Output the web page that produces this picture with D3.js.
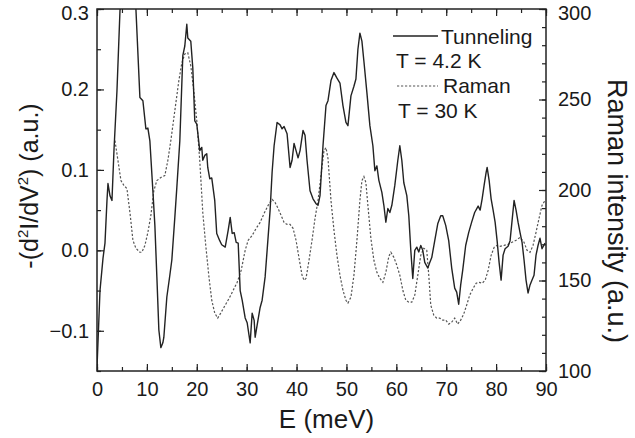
<!DOCTYPE html>
<html><head><meta charset="utf-8">
<script src="https://cdn.jsdelivr.net/npm/d3@7"></script>
<style>body{margin:0;background:#fff}svg{display:block}text{font-family:"Liberation Sans",Arial,sans-serif;fill:#1a1a1a}</style>
</head><body>
<svg id="c" width="635" height="438"></svg>
<script>
// Tunneling -(d2I/dV2), T = 4.2 K : energy (meV)
const tunE = [0,0.6,1.2,1.6,2.0,2.2,2.6,3.0,3.4,4.0,4.6,5.4,6.6,7.8,8.6,9.2,9.8,10.2,10.6,11.2,11.6,12.0,12.4,12.8,13.2,13.4,14.0,14.6,15.0,15.6,16.0,16.6,17.2,17.6,18.0,18.2,18.8,19.2,19.6,20.0,20.6,21.0,21.2,21.6,22.0,22.2,22.6,23.0,23.6,24.0,24.6,25.0,25.7,26.3,26.7,27.1,27.5,27.9,28.3,28.7,29.1,29.7,30.1,30.7,31.1,31.5,31.7,32.1,32.7,33.1,33.7,34.1,34.7,35.1,35.5,36.1,36.7,37.1,37.5,38.1,38.7,39.1,39.5,39.9,40.3,40.7,41.3,41.7,42.1,42.7,43.3,43.9,44.3,44.7,45.3,45.9,46.3,46.9,47.5,48.1,48.7,49.3,49.9,50.3,50.9,51.5,51.9,52.3,52.7,53.1,53.5,54.1,54.7,55.3,55.7,56.1,56.5,57.1,57.5,57.9,58.3,58.7,59.1,59.7,60.3,60.7,61.1,61.5,62.1,62.5,62.9,63.3,63.7,64.1,64.5,64.9,65.3,65.7,66.3,66.7,67.1,67.7,68.3,68.9,69.3,69.9,70.5,71.1,71.7,72.1,72.5,72.9,73.3,73.9,74.5,75.1,75.7,76.4,76.8,77.2,77.6,78.0,78.2,78.6,79.0,79.4,79.8,80.2,80.6,81.0,81.4,81.8,82.4,82.8,83.2,83.6,84.0,84.4,84.8,85.2,85.6,86.0,86.4,86.8,87.2,87.6,88.0,88.4,88.8,89.2,89.8];
const tunV = [-0.146,-0.050,-0.010,0.009,0.062,0.083,0.068,0.062,0.124,0.198,0.297,0.36,0.36,0.30,0.190,0.186,0.151,0.152,0.136,0.074,0.031,-0.033,-0.099,-0.121,-0.115,-0.108,-0.058,-0.031,-0.012,0.041,0.078,0.136,0.242,0.254,0.281,0.264,0.260,0.227,0.161,0.157,0.124,0.128,0.112,0.118,0.120,0.103,0.089,0.090,0.062,0.021,0.012,0.007,0.004,0.025,0.041,0.021,0.022,0.010,0.009,-0.050,-0.062,-0.084,-0.090,-0.115,-0.078,-0.087,-0.108,-0.093,-0.071,-0.062,-0.033,0.0,0.050,0.097,0.130,0.159,0.156,0.151,0.154,0.145,0.103,0.112,0.133,0.124,0.115,0.124,0.149,0.143,0.112,0.074,0.064,0.058,0.056,0.068,0.130,0.180,0.186,0.211,0.221,0.214,0.208,0.180,0.159,0.155,0.192,0.204,0.213,0.250,0.270,0.260,0.235,0.196,0.155,0.130,0.099,0.105,0.087,0.072,0.056,0.035,0.052,0.047,0.056,0.081,0.112,0.130,0.112,0.084,0.068,0.043,0.0,-0.035,0.0,0.004,-0.002,0.006,0.0,-0.015,-0.022,-0.015,-0.009,0.012,0.033,0.043,0.043,0.031,0.012,-0.022,-0.047,-0.052,-0.067,-0.043,-0.025,0.006,0.022,0.035,0.047,0.055,0.050,0.064,0.081,0.097,0.103,0.087,0.064,0.050,0.035,0.012,-0.015,-0.037,-0.006,0.002,0.005,0.012,0.037,0.062,0.050,0.035,0.022,0.010,-0.012,-0.037,-0.053,-0.043,-0.037,-0.031,-0.006,0.006,0.015,0.002,0.009];
// Raman intensity, T = 30 K
const ramE = [3.6,4.2,4.8,5.4,6.0,6.6,7.2,7.8,8.6,9.0,9.6,10.2,10.8,11.4,12.0,12.8,13.6,14.2,14.8,15.6,16.4,17.0,17.6,18.2,18.8,19.4,20.0,20.6,21.2,21.8,22.4,23.0,23.6,24.2,24.8,25.7,26.5,27.3,28.1,28.9,29.7,30.3,31.1,31.9,32.7,33.5,34.3,35.1,35.7,36.3,36.9,37.5,38.1,38.7,39.3,39.9,40.5,41.1,41.5,41.9,42.5,43.1,43.7,44.3,44.9,45.5,45.9,46.3,46.9,47.5,48.1,48.7,49.3,49.9,50.3,50.9,51.5,52.1,52.7,53.1,53.5,53.9,54.3,54.9,55.5,56.1,56.7,57.3,57.9,58.5,58.9,59.5,60.1,60.7,61.3,61.9,62.5,63.1,63.7,64.3,64.9,65.5,66.1,66.5,66.9,67.5,68.1,68.7,69.3,69.9,70.5,71.1,71.7,72.3,72.9,73.5,74.1,74.7,75.4,76.0,76.6,77.2,77.8,78.4,79.0,79.6,80.2,80.8,81.6,82.4,83.2,84.0,84.8,85.6,86.2,86.8,87.4,88.0,88.6,89.2,89.8];
const ramV = [227.3,216.3,205.2,202.5,200.8,187.6,172.2,167.8,165.6,165.6,169.4,176.6,186.0,199.7,205.2,206.9,208.0,216.3,227.3,243.8,260.3,270.2,275.2,275.8,268.6,254.8,238.3,216.3,187.6,169.4,152.9,139.1,132.0,129.2,132.0,136.4,140.2,144.6,149.0,155.6,166.7,172.2,174.9,178.8,182.1,187.1,191.5,194.8,193.1,189.8,186.0,182.1,181.0,181.0,178.8,172.2,162.3,152.9,150.1,151.2,161.2,172.2,184.3,194.2,208.0,221.8,223.4,217.4,194.2,177.7,163.9,152.9,144.6,139.1,137.5,140.8,152.9,172.2,194.2,205.2,207.4,204.1,191.5,173.3,161.2,154.5,151.2,149.0,154.5,163.4,165.6,162.8,158.4,152.9,144.6,139.1,138.0,138.0,141.9,152.9,163.9,167.8,166.7,152.9,136.4,130.9,129.2,129.2,128.1,128.1,125.9,127.0,129.2,125.9,128.1,131.4,136.4,141.9,145.7,148.5,149.0,148.5,150.1,155.6,163.9,168.3,169.4,168.9,169.4,170.0,171.1,172.2,173.8,171.1,166.7,165.6,169.4,176.6,184.3,191.5,194.2];
const xTicks = [0,10,20,30,40,50,60,70,80,90];
const yLeftTicks = [-0.1,0.0,0.1,0.2,0.3];
const yRightTicks = [100,150,200,250,300];

const svg = d3.select("#c");
const L=97, R=546, T=9, B=371;
const x = d3.scaleLinear().domain([0,90]).range([L,R]);
const yL = d3.scaleLinear().domain([-0.15,0.3]).range([B,T]);
const yR = d3.scaleLinear().domain([100,300]).range([B,T]);

svg.append("defs").append("clipPath").attr("id","clip")
  .append("rect").attr("x",L).attr("y",T).attr("width",R-L).attr("height",B-T);

const g = svg.append("g").attr("clip-path","url(#clip)");
g.append("path").datum(ramE.map((e,i)=>[e,ramV[i]]))
  .attr("d", d3.line().x(d=>x(d[0])).y(d=>yR(d[1])))
  .attr("fill","none").attr("stroke","#555").attr("stroke-width",1.2).attr("stroke-dasharray","2.2,1.8");
g.append("path").datum(tunE.map((e,i)=>[e,tunV[i]]))
  .attr("d", d3.line().x(d=>x(d[0])).y(d=>yL(d[1])))
  .attr("fill","none").attr("stroke","#222").attr("stroke-width",1.4).attr("stroke-linejoin","round");

// frame
svg.append("rect").attr("x",L).attr("y",T).attr("width",R-L).attr("height",B-T)
  .attr("fill","none").attr("stroke","#222").attr("stroke-width",1.5);

function styleAxis(sel){
  sel.select(".domain").remove();
  sel.selectAll("line").attr("stroke","#222").attr("stroke-width",1.2);
  sel.selectAll("text").style("font-size","20px").attr("fill","#1a1a1a");
}
// minor ticks
const minorX = d3.range(0,91,5), minorL = d3.range(-0.15,0.301,0.05), minorR = d3.range(100,301,10);
svg.append("g").attr("transform",`translate(0,${B})`).call(d3.axisBottom(x).tickValues(minorX).tickSize(-4).tickFormat("")).call(styleAxis);
svg.append("g").attr("transform",`translate(0,${T})`).call(d3.axisTop(x).tickValues(minorX).tickSize(-4).tickFormat("")).call(styleAxis);
svg.append("g").attr("transform",`translate(${L},0)`).call(d3.axisLeft(yL).tickValues(minorL).tickSize(-4).tickFormat("")).call(styleAxis);
svg.append("g").attr("transform",`translate(${R},0)`).call(d3.axisRight(yR).tickValues(minorR).tickSize(-4).tickFormat("")).call(styleAxis);
// major ticks with labels
svg.append("g").attr("transform",`translate(0,${B})`).call(d3.axisBottom(x).tickValues(xTicks).tickSize(-7).tickPadding(11).tickFormat(d3.format("d"))).call(styleAxis);
svg.append("g").attr("transform",`translate(0,${T})`).call(d3.axisTop(x).tickValues(xTicks).tickSize(-7).tickFormat("")).call(styleAxis);
const gl = svg.append("g").attr("transform",`translate(${L},0)`).call(d3.axisLeft(yL).tickValues(yLeftTicks).tickSize(-7).tickPadding(8).tickFormat(d3.format(".1f"))).call(styleAxis);
const gr = svg.append("g").attr("transform",`translate(${R},0)`).call(d3.axisRight(yR).tickValues(yRightTicks).tickSize(-7).tickPadding(12).tickFormat(d3.format("d"))).call(styleAxis);
// keep the top labels inside the canvas
gl.selectAll(".tick text").filter(d=>d===0.3).attr("dy","0.5em");
gr.selectAll(".tick text").filter(d=>d===300).attr("dy","0.5em");

// axis titles
svg.append("text").attr("x",(L+R)/2+5).attr("y",428).attr("text-anchor","middle").style("font-size","26px").text("E (meV)");
const lt = svg.append("text").attr("transform","translate(38,186) rotate(-90)").attr("text-anchor","middle").style("font-size","25px");
lt.append("tspan").text("-(d");
lt.append("tspan").attr("dy",-10).style("font-size","15px").text("2");
lt.append("tspan").attr("dy",10).text("I/dV");
lt.append("tspan").attr("dy",-10).style("font-size","15px").text("2");
lt.append("tspan").attr("dy",10).text(") (a.u.)");
svg.append("text").attr("transform","translate(608,211) rotate(90)").attr("text-anchor","middle").style("font-size","27px").text("Raman intensity (a.u.)");

// legend
svg.append("line").attr("x1",393).attr("x2",438).attr("y1",36).attr("y2",36).attr("stroke","#222").attr("stroke-width",1.3);
svg.append("text").attr("x",441).attr("y",44).style("font-size","21px").text("Tunneling");
svg.append("text").attr("x",396).attr("y",68).style("font-size","21px").text("T = 4.2 K");
svg.append("line").attr("x1",397).attr("x2",438).attr("y1",86).attr("y2",86).attr("stroke","#555").attr("stroke-width",1.2).attr("stroke-dasharray","2.2,1.8");
svg.append("text").attr("x",443).attr("y",93).style("font-size","21px").text("Raman");
svg.append("text").attr("x",398).attr("y",118).style("font-size","21px").text("T = 30 K");
</script>
</body></html>
